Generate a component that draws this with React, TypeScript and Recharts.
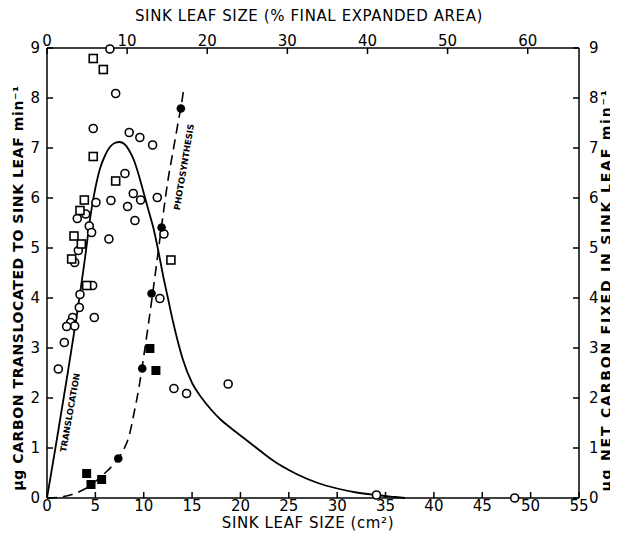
import { ComposedChart, Line, Scatter, XAxis, YAxis, Label, ReferenceDot } from "recharts";

// sink leaf size (cm2) vs carbon
const openCircles = [
  { x: 6.5, y: 8.98 }, { x: 7.1, y: 8.09 }, { x: 4.78, y: 7.39 }, { x: 8.5, y: 7.31 },
  { x: 9.6, y: 7.21 }, { x: 10.92, y: 7.06 }, { x: 8.06, y: 6.49 }, { x: 8.92, y: 6.09 },
  { x: 5.06, y: 5.91 }, { x: 6.61, y: 5.95 }, { x: 8.33, y: 5.83 }, { x: 9.68, y: 5.96 },
  { x: 11.4, y: 6.01 }, { x: 9.09, y: 5.55 }, { x: 4.0, y: 5.68 }, { x: 3.13, y: 5.59 },
  { x: 4.37, y: 5.44 }, { x: 4.61, y: 5.31 }, { x: 12.09, y: 5.28 }, { x: 3.24, y: 4.95 },
  { x: 6.4, y: 5.18 }, { x: 2.86, y: 4.71 }, { x: 4.72, y: 4.25 }, { x: 3.41, y: 4.07 },
  { x: 11.67, y: 3.99 }, { x: 3.34, y: 3.81 }, { x: 2.65, y: 3.61 }, { x: 4.89, y: 3.61 },
  { x: 2.44, y: 3.51 }, { x: 2.86, y: 3.44 }, { x: 2.03, y: 3.43 }, { x: 1.79, y: 3.11 },
  { x: 1.17, y: 2.58 }, { x: 13.12, y: 2.19 }, { x: 14.43, y: 2.09 }, { x: 18.73, y: 2.28 },
  { x: 34.06, y: 0.06 }, { x: 48.35, y: 0.0 },
];

const openSquares = [
  { x: 4.78, y: 8.79 }, { x: 5.82, y: 8.57 }, { x: 4.78, y: 6.83 }, { x: 7.1, y: 6.34 },
  { x: 3.86, y: 5.96 }, { x: 3.41, y: 5.75 }, { x: 2.79, y: 5.24 }, { x: 3.55, y: 5.08 },
  { x: 2.55, y: 4.78 }, { x: 4.1, y: 4.25 }, { x: 12.81, y: 4.76 },
];

const filledCircles = [
  { x: 13.84, y: 7.79 }, { x: 11.85, y: 5.41 }, { x: 10.81, y: 4.09 },
  { x: 9.85, y: 2.59 }, { x: 7.37, y: 0.79 },
];

const filledSquares = [
  { x: 10.64, y: 2.99 }, { x: 11.26, y: 2.55 }, { x: 4.1, y: 0.49 },
  { x: 4.55, y: 0.27 }, { x: 5.65, y: 0.37 },
];

const translocation = [
  { x: 0, y: 0 }, { x: 1, y: 1.15 }, { x: 2, y: 2.33 }, { x: 3, y: 3.55 }, { x: 4, y: 4.9 },
  { x: 4.5, y: 5.65 }, { x: 5, y: 6.2 }, { x: 5.5, y: 6.6 }, { x: 6, y: 6.85 }, { x: 6.5, y: 7.02 },
  { x: 7, y: 7.1 }, { x: 7.5, y: 7.12 }, { x: 8, y: 7.08 }, { x: 8.5, y: 6.95 }, { x: 9, y: 6.75 },
  { x: 9.5, y: 6.45 }, { x: 10, y: 6.1 }, { x: 10.5, y: 5.75 }, { x: 11, y: 5.4 }, { x: 11.5, y: 4.95 },
  { x: 12, y: 4.45 }, { x: 12.5, y: 4.0 }, { x: 13, y: 3.55 }, { x: 13.5, y: 3.15 }, { x: 14, y: 2.8 },
  { x: 15, y: 2.3 }, { x: 16, y: 2.0 }, { x: 17, y: 1.76 }, { x: 18, y: 1.56 }, { x: 19, y: 1.4 },
  { x: 20, y: 1.25 }, { x: 21, y: 1.1 }, { x: 22, y: 0.95 }, { x: 23, y: 0.8 }, { x: 24, y: 0.67 },
  { x: 25, y: 0.56 }, { x: 26, y: 0.46 }, { x: 28, y: 0.3 }, { x: 30, y: 0.19 }, { x: 32, y: 0.11 },
  { x: 34, y: 0.06 }, { x: 36, y: 0.02 }, { x: 37, y: 0 },
];

const photosynthesis = [
  { x: 0, y: 0 }, { x: 1, y: 0.01 }, { x: 2, y: 0.04 }, { x: 3, y: 0.1 }, { x: 4, y: 0.19 },
  { x: 5, y: 0.33 }, { x: 6, y: 0.5 }, { x: 7, y: 0.7 }, { x: 7.5, y: 0.83 }, { x: 8, y: 1.0 },
  { x: 8.5, y: 1.25 }, { x: 9, y: 1.7 }, { x: 9.5, y: 2.2 }, { x: 10, y: 2.83 }, { x: 10.5, y: 3.5 },
  { x: 11, y: 4.2 }, { x: 11.5, y: 4.93 }, { x: 12, y: 5.66 }, { x: 12.5, y: 6.35 }, { x: 13, y: 6.9 },
  { x: 13.5, y: 7.45 }, { x: 14, y: 8.0 }, { x: 14.15, y: 8.2 },
];

const cmTicks = [0, 5, 10, 15, 20, 25, 30, 35, 40, 45, 50, 55];
const pctTicks = [0, 10, 20, 30, 40, 50, 60];
const pctAnchor = [{ p: 0, y: 0 }];
const yTicks = [0, 1, 2, 3, 4, 5, 6, 7, 8, 9];

const FONT = "'DejaVu Sans', sans-serif";
const tickStyle = { fill: "#000", fontSize: 15, fontFamily: FONT };

const OpenCircle = (p: any) => (
  <circle cx={p.cx} cy={p.cy} r={4} fill="#fff" stroke="#000" strokeWidth={1.6} />
);
const FilledCircle = (p: any) => <circle cx={p.cx} cy={p.cy} r={4.3} fill="#000" />;
const OpenSquare = (p: any) => (
  <rect x={p.cx - 4} y={p.cy - 4} width={8} height={8} fill="#fff" stroke="#000" strokeWidth={1.6} />
);
const FilledSquare = (p: any) => (
  <rect x={p.cx - 4.5} y={p.cy - 4.5} width={9} height={9} fill="#000" />
);
const NoShape = () => <g />;

const titleStyle = { fontFamily: FONT, fontSize: 15, fill: "#000" };

const curveLabel = (text: string, angle: number) => (props: any) => {
  const vb = props.viewBox;
  const cx = vb.x + vb.width / 2;
  const cy = vb.y + vb.height / 2;
  return (
    <text
      x={cx}
      y={cy}
      transform={`rotate(${angle} ${cx} ${cy})`}
      textAnchor="middle"
      dominantBaseline="central"
      style={{ fontFamily: FONT, fontSize: 8.5, fontWeight: "bold", fill: "#000" }}
    >
      {text}
    </text>
  );
};

export default function App() {
  return (
    <div style={{ width: 610, height: 524, overflow: "hidden" }}>
      <ComposedChart
        width={610}
        height={524}
        margin={{ top: 0, right: 0, bottom: 0, left: 0 }}
        style={{ display: "block" }}
      >
        <XAxis
          xAxisId="b"
          dataKey="x"
          type="number"
          domain={[0, 55]}
          ticks={cmTicks}
          allowDataOverflow
          height={34}
          tickSize={-6}
          tickMargin={8}
          tick={tickStyle}
          stroke="#000"
          strokeWidth={1.5}
          interval={0}
        >
          <Label
            content={() => (
              <text x={300} y={515} textAnchor="middle" dominantBaseline="central" style={{ ...titleStyle, letterSpacing: 0.6 }}>
                SINK LEAF SIZE (cm²)
              </text>
            )}
          />
        </XAxis>
        <XAxis
          xAxisId="t"
          dataKey="p"
          orientation="top"
          type="number"
          domain={[0, 66.4]}
          ticks={pctTicks}
          allowDataOverflow
          height={40}
          tickSize={-6}
          tickMargin={8}
          tick={tickStyle}
          stroke="#000"
          strokeWidth={1.5}
          interval={0}
        >
          <Label
            content={() => (
              <text x={301} y={8} textAnchor="middle" dominantBaseline="central" style={{ ...titleStyle, letterSpacing: 0.6 }}>
                SINK LEAF SIZE (% FINAL EXPANDED AREA)
              </text>
            )}
          />
        </XAxis>
        <YAxis
          yAxisId="l"
          type="number"
          domain={[0, 9]}
          ticks={yTicks}
          width={39}
          tickSize={-6}
          tickMargin={13}
          tick={tickStyle}
          stroke="#000"
          strokeWidth={1.5}
          interval={0}
        >
          <Label
            content={() => (
              <text x={10} y={280} textAnchor="middle" dominantBaseline="central" transform="rotate(-90 10 280)" style={{ ...titleStyle, fontSize: 14, fontWeight: "bold", letterSpacing: 0.6 }}>
                µg CARBON TRANSLOCATED TO SINK LEAF min⁻¹
              </text>
            )}
          />
        </YAxis>
        <YAxis
          yAxisId="r"
          orientation="right"
          type="number"
          domain={[0, 9]}
          ticks={yTicks}
          width={39}
          tickSize={-6}
          tickMargin={16}
          tick={tickStyle}
          stroke="#000"
          strokeWidth={1.5}
          interval={0}
        >
          <Label
            content={() => (
              <text x={598} y={282} textAnchor="middle" dominantBaseline="central" transform="rotate(-90 598 282)" style={{ ...titleStyle, fontSize: 14, fontWeight: "bold", letterSpacing: 1.8 }}>
                µg NET CARBON FIXED IN SINK LEAF min⁻¹
              </text>
            )}
          />
        </YAxis>

        <Line
          data={translocation}
          xAxisId="b"
          yAxisId="l"
          dataKey="y"
          type="monotone"
          dot={false}
          stroke="#000"
          strokeWidth={1.8}
          isAnimationActive={false}
        />
        <Line
          data={photosynthesis}
          xAxisId="b"
          yAxisId="r"
          dataKey="y"
          type="monotone"
          dot={false}
          stroke="#000"
          strokeWidth={1.6}
          strokeDasharray="10 6"
          isAnimationActive={false}
        />

        <Scatter data={openCircles} xAxisId="b" yAxisId="l" dataKey="y" shape={OpenCircle} isAnimationActive={false} />
        <Scatter data={openSquares} xAxisId="b" yAxisId="l" dataKey="y" shape={OpenSquare} isAnimationActive={false} />
        <Scatter data={filledCircles} xAxisId="b" yAxisId="r" dataKey="y" shape={FilledCircle} isAnimationActive={false} />
        <Scatter data={filledSquares} xAxisId="b" yAxisId="r" dataKey="y" shape={FilledSquare} isAnimationActive={false} />
        {/* keeps the top (% area) axis alive */}
        <Scatter data={pctAnchor} xAxisId="t" yAxisId="l" dataKey="y" shape={NoShape} isAnimationActive={false} />

        <ReferenceDot xAxisId="b" yAxisId="l" x={2.38} y={1.71} r={0} stroke="none" fill="none">
          <Label content={curveLabel("TRANSLOCATION", -80)} />
        </ReferenceDot>
        <ReferenceDot xAxisId="b" yAxisId="r" x={14.15} y={6.62} r={0} stroke="none" fill="none">
          <Label content={curveLabel("PHOTOSYNTHESIS", -80.5)} />
        </ReferenceDot>
      </ComposedChart>
    </div>
  );
}
